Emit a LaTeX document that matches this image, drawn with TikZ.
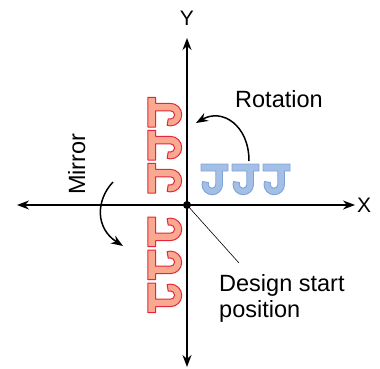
\documentclass[tikz,border=0pt]{standalone}
\usepackage{fontspec}
\setmainfont{Liberation Sans}
\usetikzlibrary{arrows.meta}
\definecolor{jbluefill}{HTML}{A3BFE6}
\definecolor{jblueline}{HTML}{7FA3D6}
\definecolor{jredfill}{HTML}{F9A98F}
\definecolor{jredline}{HTML}{E8253A}
\newcommand{\Jglyph}{(0,31) -- (27,31) -- (27,24) -- (21.5,24) -- (21.5,10.5) arc[start angle=0,end angle=-180,radius=10.25] -- (1.5,13.5) -- (7.5,12.5) -- (7.25,10.5) arc[start angle=180,end angle=360,radius=3.75] -- (14.75,24) -- (0,24) -- cycle}
\tikzset{
  axisline/.style={line width=1.5pt, {Stealth[length=12pt,width=9pt]}-{Stealth[length=12pt,width=9pt]}},
  bendarrow/.style={line width=1.5pt, -{Stealth[length=12pt,width=9pt]}},
  lbl/.style={font=\fontsize{23.5}{27}\selectfont, inner sep=0pt},
  bluej/.style={fill=jbluefill, draw=jblueline, line width=0.9pt, line join=round},
  redj/.style={fill=jredfill, draw=jredline, line width=1pt, line join=round},
  pics/jblue/.style={code={\path[bluej] \Jglyph;}},
  pics/jred/.style={code={\path[redj, rotate=90, xscale=1.1, yscale=1.1] \Jglyph;}}
}
\begin{document}
\begin{tikzpicture}[x=1pt,y=1pt]
\useasboundingbox (0,0) rectangle (380,-369);
% coordinates
\coordinate (o) at (187,-205);
\coordinate (xl) at (17,-205);
\coordinate (xr) at (355,-205);
\coordinate (yt) at (187,-38);
\coordinate (yb) at (187,-367);
% blue J's
\pic at (201,-195) {jblue};
\pic at (232,-195) {jblue};
\pic at (263,-195) {jblue};
% rotated red J's
\pic at (182,-127) {jred};
\pic at (182,-160) {jred};
\pic at (182,-193) {jred};
% mirrored red J's
\pic[yscale=-1] at (182,-217) {jred};
\pic[yscale=-1] at (182,-250) {jred};
\pic[yscale=-1] at (182,-283) {jred};
% axes
\draw[axisline] (xl) -- (xr);
\draw[axisline] (yt) -- (yb);
\fill (o) circle[radius=4];
\node[lbl, font=\fontsize{21}{24}\selectfont] (ylab) at (187,-18) {Y};
\node[lbl, font=\fontsize{21}{24}\selectfont] (xlab) at (364,-205) {X};
% labels
\node[lbl, anchor=base west] (rot) at (235,-107) {Rotation};
\node[lbl, anchor=base west, rotate=90] (mir) at (85,-195) {Mirror};
\node[lbl, anchor=base west] (design) at (219,-291) {Design start};
\node[lbl, anchor=base west] (posn) at (219,-317) {position};
% rotation arrow
\coordinate (rs) at (249,-161);
\coordinate (re) at (196,-123);
\draw[bendarrow] (rs) .. controls (249,-125) and (222,-108) .. (re);
% mirror arrow
\coordinate (ms) at (113,-182);
\coordinate (me) at (123,-246);
\draw[bendarrow] (ms) .. controls (96,-200) and (95,-228) .. (me);
% leader
\coordinate (lead) at (239,-263);
\draw[line width=0.6pt] (o) -- (lead);
\end{tikzpicture}
\end{document}
